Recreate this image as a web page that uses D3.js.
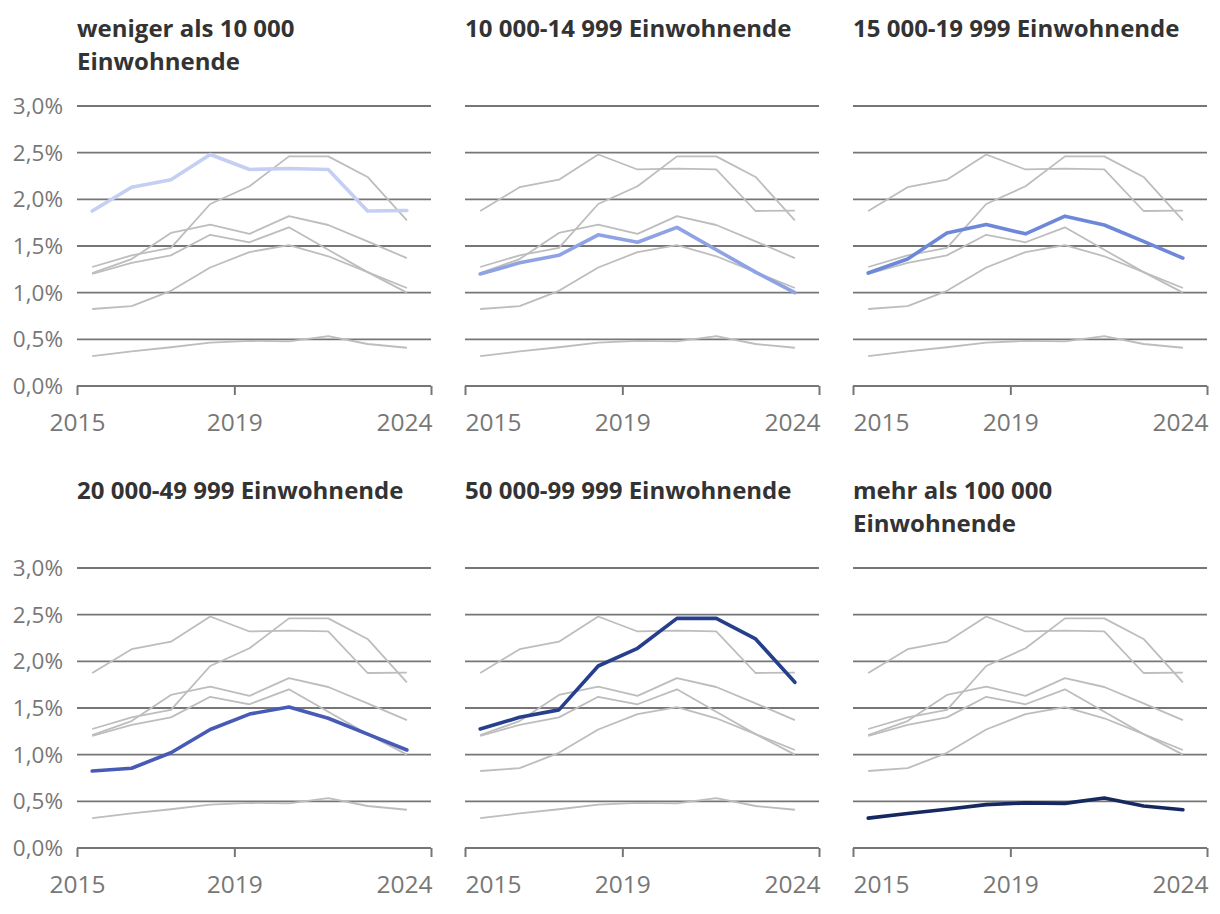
<!DOCTYPE html>
<html>
<head>
<meta charset="utf-8">
<script src="https://cdn.jsdelivr.net/npm/d3@7"></script>
<style>
  body { margin: 0; background: #fff; }
  text { font-family: "Open Sans", "Noto Sans", sans-serif; }
  .title { font-weight: 700; font-size: 24px; fill: #333; }
  .ylab { font-size: 22.5px; fill: #777; }
  .xlab { font-size: 24.5px; fill: #777; }
</style>
</head>
<body>
<div id="chart"></div>
<script>
var svgWidth = 1220;
var svgHeight = 914;

// data points sit at the same point of each year
var dates = ["2015-05-22", "2016-05-22", "2017-05-22", "2018-05-22", "2019-05-22",
  "2020-05-22", "2021-05-22", "2022-05-22", "2023-05-22"];

var groups = [
  "weniger als 10 000 Einwohnende",
  "10 000-14 999 Einwohnende",
  "15 000-19 999 Einwohnende",
  "20 000-49 999 Einwohnende",
  "50 000-99 999 Einwohnende",
  "mehr als 100 000 Einwohnende"
];

// titles as they are broken into lines
var titleLines = [
  ["weniger als 10 000", "Einwohnende"],
  ["10 000-14 999 Einwohnende"],
  ["15 000-19 999 Einwohnende"],
  ["20 000-49 999 Einwohnende"],
  ["50 000-99 999 Einwohnende"],
  ["mehr als 100 000", "Einwohnende"]
];

var under10k = [1.875, 2.13, 2.21, 2.48, 2.32, 2.33, 2.32, 1.875, 1.88];
var from10k = [1.20, 1.32, 1.40, 1.62, 1.54, 1.70, 1.46, 1.22, 1.00];
var from15k = [1.21, 1.36, 1.64, 1.73, 1.63, 1.82, 1.725, 1.55, 1.37];
var from20k = [0.825, 0.855, 1.02, 1.27, 1.435, 1.51, 1.39, 1.22, 1.05];
var from50k = [1.275, 1.40, 1.48, 1.95, 2.14, 2.46, 2.46, 2.24, 1.775];
var over100k = [0.32, 0.37, 0.415, 0.465, 0.483, 0.478, 0.535, 0.45, 0.41];

var seriesValues = [under10k, from10k, from15k, from20k, from50k, over100k];
var colors = ["#c4cff3", "#8ea2e4", "#6d88d9", "#475bb6", "#263f8d", "#15285f"];

var yTicks = [0, 0.5, 1.0, 1.5, 2.0, 2.5, 3.0];
var xTickYears = [2015, 2019, 2024];

var panelLeft = [77, 465, 853];
var panelTop = [106, 568];
var panelWidth = 354;
var panelHeight = 280;

var parseDate = d3.timeParse("%Y-%m-%d");
var fmt = d3.format(".1f");

var svg = d3.select("#chart")
  .append("svg")
  .attr("width", svgWidth)
  .attr("height", svgHeight);

var xScale = d3.scaleTime()
  .domain([new Date(2015, 0, 1), new Date(2024, 0, 1)])
  .range([0, panelWidth]);

var yScale = d3.scaleLinear()
  .domain([0, 3])
  .range([panelHeight, 0]);

var line = d3.line()
  .x(d => xScale(d.date))
  .y(d => yScale(d.value));

function toPoints(values) {
  return values.map((v, i) => ({ date: parseDate(dates[i]), value: v }));
}

groups.forEach(function(name, p) {
  var col = p % 3;
  var row = Math.floor(p / 3);

  var g = svg.append("g")
    .attr("transform", `translate(${panelLeft[col]}, ${panelTop[row]})`);

  // title
  var title = g.append("text")
    .attr("class", "title")
    .attr("x", 0)
    .attr("y", -69);
  titleLines[p].forEach(function(t, i) {
    title.append("tspan")
      .attr("x", 0)
      .attr("dy", i === 0 ? 0 : 33)
      .text(t);
  });

  // gridlines
  g.selectAll(".grid")
    .data(yTicks.filter(d => d > 0))
    .enter()
    .append("line")
    .attr("x1", 0)
    .attr("x2", panelWidth)
    .attr("y1", d => yScale(d))
    .attr("y2", d => yScale(d))
    .attr("stroke", "#767676")
    .attr("stroke-width", 1.8);

  // y labels only on the first column
  if (col === 0) {
    g.selectAll(".ylab")
      .data(yTicks)
      .enter()
      .append("text")
      .attr("class", "ylab")
      .attr("x", -14)
      .attr("y", d => yScale(d))
      .attr("dy", "0.36em")
      .attr("text-anchor", "end")
      .text(d => fmt(d).replace(".", ",") + "%");
  }

  // x axis
  var xAxis = d3.axisBottom(xScale)
    .tickValues(xTickYears.map(y => new Date(y, 0, 1)))
    .tickSize(9)
    .tickSizeOuter(0)
    .tickFormat(d3.timeFormat("%Y"));

  var axisG = g.append("g")
    .attr("transform", `translate(0, ${panelHeight})`)
    .call(xAxis);
  axisG.select(".domain")
    .attr("stroke", "#767676")
    .attr("stroke-width", 2)
    .attr("d", `M0,0H${panelWidth}`);
  axisG.selectAll(".tick line")
    .attr("stroke", "#767676")
    .attr("stroke-width", 2);
  axisG.selectAll(".tick text")
    .attr("class", "xlab")
    .attr("y", 45)
    .attr("dy", 0)
    .attr("text-anchor", (d, i) => {
      if (i === xTickYears.length - 1) return "end";
      if (i === 0 && col !== 0) return "start";
      return "middle";
    })
    .attr("dx", (d, i) => i === xTickYears.length - 1 ? 1 : 0);

  // grey context lines
  seriesValues.forEach(function(vals, s) {
    if (s === p) return;
    g.append("path")
      .datum(toPoints(vals))
      .attr("fill", "none")
      .attr("stroke", "#bdbdbd")
      .attr("stroke-width", 1.8)
      .attr("stroke-linejoin", "round")
      .attr("d", line);
  });

  // highlighted series
  g.append("path")
    .datum(toPoints(seriesValues[p]))
    .attr("fill", "none")
    .attr("stroke", colors[p])
    .attr("stroke-width", 3.6)
    .attr("stroke-linejoin", "round")
    .attr("stroke-linecap", "round")
    .attr("d", line);
});
</script>
</body>
</html>
